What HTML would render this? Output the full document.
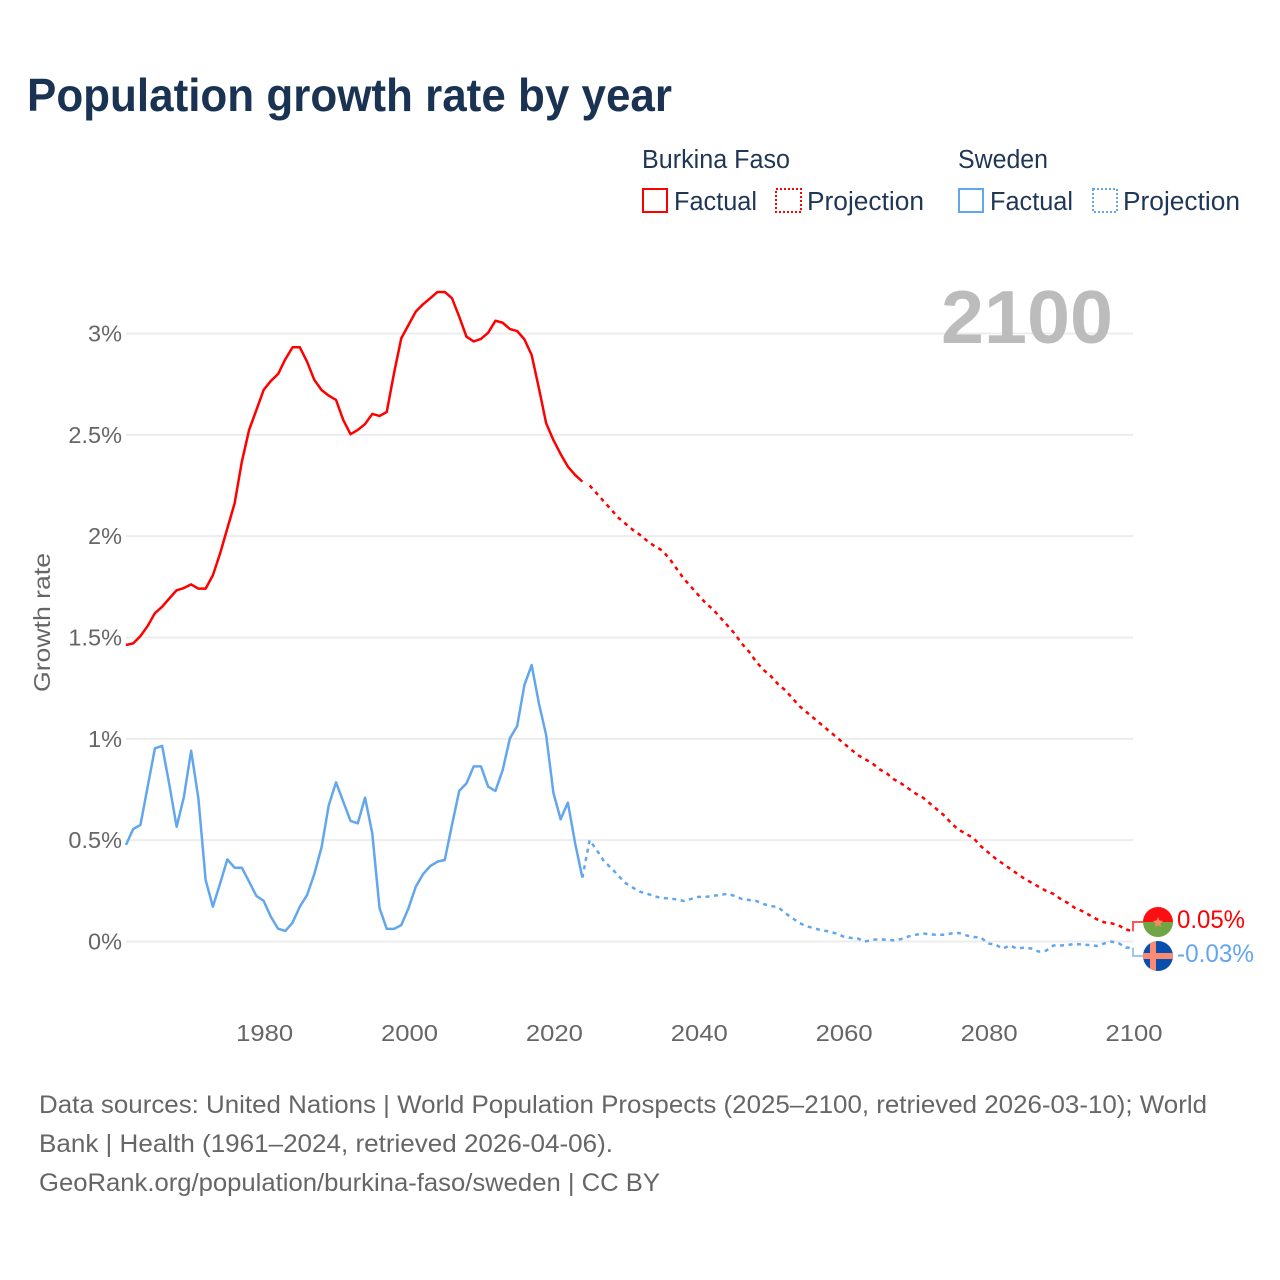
<!DOCTYPE html>
<html lang="en">
<head>
<meta charset="utf-8">
<title>Population growth rate by year</title>
<style>
html,body{margin:0;padding:0;background:#fff;width:1280px;height:1280px;overflow:hidden}
svg{display:block}
text{font-family:"Liberation Sans",sans-serif}
.legend{font-size:25.5px;fill:#1f3655}
.tick{font-size:23.5px;fill:#666}
.src{font-size:25px;fill:#666}
</style>
</head>
<body>
<svg id="chart" xmlns="http://www.w3.org/2000/svg" width="1280" height="1280" viewBox="0 0 1280 1280">
  <defs>
    <clipPath id="clipA"><circle id="clipCircleA" cx="1158" cy="922" r="15"/></clipPath>
    <clipPath id="clipB"><circle id="clipCircleB" cx="1158" cy="956" r="15"/></clipPath>
  </defs>
  <text x="27" y="111" font-size="46" font-weight="700" fill="#1a3353" textLength="645" lengthAdjust="spacingAndGlyphs">Population growth rate by year</text>

  <g>
    <text class="legend" x="642" y="168" textLength="148" lengthAdjust="spacingAndGlyphs">Burkina Faso</text>
    <rect x="643" y="189" width="24" height="23" fill="none" stroke="#ff0000" stroke-width="2"/>
    <text class="legend" x="674" y="210" textLength="83" lengthAdjust="spacingAndGlyphs">Factual</text>
    <rect x="776" y="189" width="25" height="23" fill="none" stroke="#ff0000" stroke-width="2" stroke-dasharray="2 2"/>
    <text class="legend" x="807" y="210" textLength="117" lengthAdjust="spacingAndGlyphs">Projection</text>
    <text class="legend" x="958" y="168" textLength="90" lengthAdjust="spacingAndGlyphs">Sweden</text>
    <rect x="959" y="189" width="24" height="23" fill="none" stroke="#62a6ee" stroke-width="2"/>
    <text class="legend" x="990" y="210" textLength="83" lengthAdjust="spacingAndGlyphs">Factual</text>
    <rect x="1093" y="189" width="24" height="23" fill="none" stroke="#62a6ee" stroke-width="2" stroke-dasharray="2 2"/>
    <text class="legend" x="1123" y="210" textLength="117" lengthAdjust="spacingAndGlyphs">Projection</text>
  </g>

  <g id="grid"></g>
  <g id="yTicks"></g>
  <g id="xTicks"></g>
  <text id="yearStamp" x="1113" y="343" text-anchor="end" font-size="75" font-weight="700" fill="#bcbcbc" textLength="172" lengthAdjust="spacingAndGlyphs">2100</text>
  <text class="tick" transform="translate(50,692) rotate(-90)" textLength="139" lengthAdjust="spacingAndGlyphs">Growth rate</text>
  <g id="series"></g>

  <g clip-path="url(#clipA)">
    <rect id="flagATop" x="1143" y="907" width="30" height="15" fill="#fb0f14"/>
    <rect id="flagABottom" x="1143" y="922" width="30" height="15" fill="#6fa545"/>
    <polygon id="flagAStar" points="1158,917 1159.5,920.5 1163,921 1160.5,923.5 1161,927 1158,925.2 1155,927 1155.5,923.5 1153,921 1156.5,920.5" fill="#f98a5e"/>
  </g>
  <g clip-path="url(#clipB)">
    <rect id="flagBField" x="1143" y="941" width="30" height="30" fill="#0a4fae"/>
    <rect id="flagBV" x="1150" y="941" width="6" height="30" fill="#fb8a74"/>
    <rect id="flagBH" x="1143" y="953" width="30" height="6" fill="#fb8a74"/>
  </g>
  <text id="labelA" x="1177" y="928" font-size="25" fill="#ff0000" textLength="68" lengthAdjust="spacingAndGlyphs"></text>
  <text id="labelB" x="1177" y="962" font-size="25" fill="#62a6ee" textLength="77" lengthAdjust="spacingAndGlyphs"></text>

  <g>
    <text class="src" x="39" y="1113" textLength="1168" lengthAdjust="spacingAndGlyphs">Data sources: United Nations | World Population Prospects (2025–2100, retrieved 2026-03-10); World</text>
    <text class="src" x="39" y="1152" textLength="574" lengthAdjust="spacingAndGlyphs">Bank | Health (1961–2024, retrieved 2026-04-06).</text>
    <text class="src" x="39" y="1191" textLength="621" lengthAdjust="spacingAndGlyphs">GeoRank.org/population/burkina-faso/sweden | CC BY</text>
  </g>
</svg>
<script>
var factualStartYear = 1961;
var projectionStartYear = 2025;
var yTickValues = [0, 0.5, 1, 1.5, 2, 2.5, 3];
var yTickLabels = ["0%", "0.5%", "1%", "1.5%", "2%", "2.5%", "3%"];
var xTickYears = [1980, 2000, 2020, 2040, 2060, 2080, 2100];
var burkinaFactual = [1.463,1.471,1.507,1.557,1.62,1.652,1.693,1.733,1.744,1.762,1.741,1.741,1.807,1.915,2.039,2.162,2.368,2.524,2.622,2.721,2.766,2.80,2.873,2.932,2.932,2.861,2.771,2.721,2.693,2.672,2.573,2.503,2.524,2.553,2.603,2.593,2.613,2.804,2.976,3.042,3.108,3.144,3.174,3.205,3.205,3.174,3.083,2.984,2.961,2.973,3.004,3.063,3.053,3.022,3.012,2.971,2.894,2.73,2.557,2.474,2.405,2.343,2.302,2.269];
var burkinaProjection = [2.25,2.21,2.17,2.13,2.09,2.06,2.03,2.005,1.975,1.95,1.93,1.89,1.84,1.79,1.75,1.71,1.67,1.64,1.60,1.56,1.52,1.47,1.43,1.38,1.34,1.31,1.27,1.24,1.20,1.16,1.13,1.10,1.07,1.04,1.01,0.98,0.95,0.92,0.90,0.88,0.85,0.83,0.80,0.78,0.755,0.73,0.71,0.68,0.65,0.62,0.58,0.55,0.53,0.51,0.47,0.44,0.41,0.385,0.36,0.335,0.31,0.29,0.27,0.25,0.235,0.21,0.19,0.165,0.15,0.13,0.11,0.095,0.09,0.08,0.06,0.05];
var swedenFactual = [0.476,0.555,0.575,0.764,0.953,0.965,0.772,0.566,0.714,0.941,0.706,0.303,0.172,0.287,0.405,0.364,0.364,0.295,0.225,0.201,0.122,0.063,0.052,0.093,0.172,0.229,0.333,0.465,0.673,0.785,0.69,0.595,0.583,0.71,0.534,0.165,0.062,0.062,0.081,0.164,0.27,0.332,0.372,0.394,0.402,0.575,0.743,0.78,0.864,0.864,0.764,0.743,0.846,1.003,1.063,1.266,1.364,1.175,1.019,0.734,0.603,0.685,0.485,0.315];
var swedenProjection = [0.50,0.45,0.395,0.362,0.323,0.287,0.265,0.245,0.235,0.222,0.215,0.212,0.208,0.20,0.21,0.22,0.22,0.225,0.23,0.235,0.225,0.21,0.205,0.20,0.185,0.175,0.17,0.14,0.115,0.09,0.075,0.065,0.055,0.05,0.04,0.025,0.018,0.015,0,0.008,0.012,0.008,0.006,0.012,0.025,0.033,0.04,0.035,0.033,0.033,0.04,0.042,0.03,0.022,0.02,-0.01,-0.015,-0.035,-0.02,-0.035,-0.03,-0.035,-0.05,-0.045,-0.02,-0.02,-0.017,-0.012,-0.015,-0.018,-0.022,-0.01,0,-0.008,-0.03,-0.03];

var SVGNS = "http://www.w3.org/2000/svg";
var RED = "#ff0000";
var BLUE = "#62a6ee";
function xScale(year) { return 1133 - (2100 - year) * 7.245; }
function yScale(v) { return 941.5 - v * 202.67; }
function make(tag, parent) {
  var el = document.createElementNS(SVGNS, tag);
  parent.appendChild(el);
  return el;
}
function pathFor(values, startYear, prefix) {
  var d = prefix || "";
  for (var i = 0; i < values.length; i++) {
    d += (d ? "L" : "M") + xScale(startYear + i).toFixed(2) + " " + yScale(values[i]).toFixed(2);
  }
  return d;
}
function fmtPct(v) { return v.toFixed(2) + "%"; }

var grid = document.getElementById("grid");
var yTicks = document.getElementById("yTicks");
var xTicks = document.getElementById("xTicks");
var series = document.getElementById("series");

yTickValues.forEach(function (v, i) {
  var ln = make("line", grid);
  
  
  ln.setAttribute("x1", 126);
  ln.setAttribute("x2", 1133);
  ln.setAttribute("y1", yScale(v));
  ln.setAttribute("y2", yScale(v));
  ln.setAttribute("stroke", "#ececec");
  ln.setAttribute("stroke-width", 2);
  var t = make("text", yTicks);
  
  
  t.setAttribute("class", "tick");
  t.setAttribute("x", 122);
  t.setAttribute("y", yScale(v) + 8);
  t.setAttribute("text-anchor", "end");
  t.textContent = yTickLabels[i];
});

xTickYears.forEach(function (yr) {
  var t = make("text", xTicks);
  
  
  t.setAttribute("class", "tick");
  t.setAttribute("x", xScale(yr) + 1);
  t.setAttribute("y", 1041);
  t.setAttribute("text-anchor", "middle");
  t.setAttribute("textLength", 57);
  t.setAttribute("lengthAdjust", "spacingAndGlyphs");
  t.textContent = String(yr);
});

var a1 = make("path", series);


a1.setAttribute("d", pathFor(burkinaFactual, factualStartYear));
a1.setAttribute("fill", "none");
a1.setAttribute("stroke", RED);
a1.setAttribute("stroke-width", 2.5);
a1.setAttribute("stroke-linejoin", "round");

var a2 = make("path", series);


a2.setAttribute("d", pathFor(burkinaProjection, projectionStartYear));
a2.setAttribute("fill", "none");
a2.setAttribute("stroke", RED);
a2.setAttribute("stroke-width", 2.5);
a2.setAttribute("stroke-dasharray", "4 4.5");

var b1 = make("path", series);


b1.setAttribute("d", pathFor(swedenFactual, factualStartYear));
b1.setAttribute("fill", "none");
b1.setAttribute("stroke", BLUE);
b1.setAttribute("stroke-width", 2.5);
b1.setAttribute("stroke-linejoin", "round");

var bridgeStart = "M" + xScale(2024).toFixed(2) + " " + yScale(swedenFactual[swedenFactual.length - 1]).toFixed(2);
var b2 = make("path", series);


b2.setAttribute("d", pathFor(swedenProjection, projectionStartYear, bridgeStart));
b2.setAttribute("fill", "none");
b2.setAttribute("stroke", BLUE);
b2.setAttribute("stroke-width", 2.5);
b2.setAttribute("stroke-dasharray", "4 4.5");

var lastA = burkinaProjection[burkinaProjection.length - 1];
var lastB = swedenProjection[swedenProjection.length - 1];
var flagAY = yScale(lastA) - 9.4;
var flagBY = yScale(lastB) + 8.4;
var endX = xScale(2100);

var ca = make("path", series);


ca.setAttribute("d", "M" + endX + " " + yScale(lastA) + "V" + flagAY + "H1143");
ca.setAttribute("fill", "none");
ca.setAttribute("stroke", "#ff5555");
ca.setAttribute("stroke-width", 2);

var cb = make("path", series);


cb.setAttribute("d", "M" + endX + " " + yScale(lastB) + "V" + flagBY + "H1143");
cb.setAttribute("fill", "none");
cb.setAttribute("stroke", "#9cc6f3");
cb.setAttribute("stroke-width", 2);

document.getElementById("labelA").textContent = fmtPct(lastA);
document.getElementById("labelB").textContent = fmtPct(lastB);
</script>
</body>
</html>
